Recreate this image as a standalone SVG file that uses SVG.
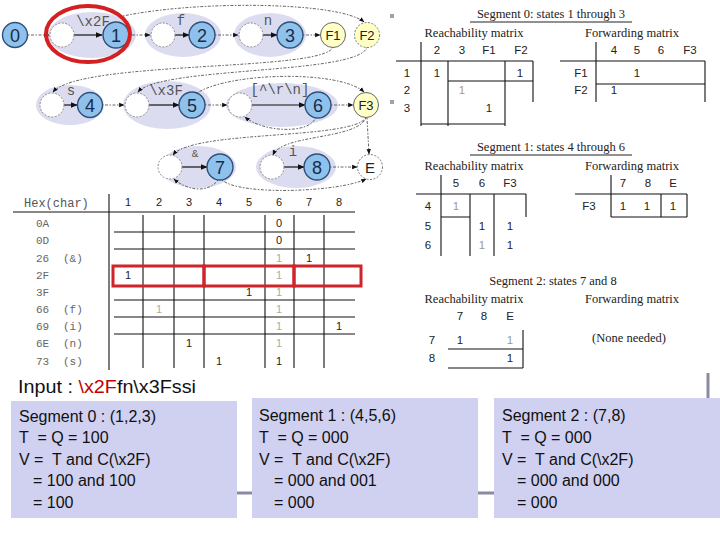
<svg xmlns="http://www.w3.org/2000/svg" width="720" height="540" viewBox="0 0 720 540">
<style>
.bg{fill:#fff}
.lav{fill:#dcdcf1}
.bn{fill:#8ec2ec;stroke:#2e4f78;stroke-width:1.4}
.wn{fill:#fff;stroke:#8a8a8a;stroke-width:1;stroke-dasharray:2 1.5}
.yn{fill:#ffffc6;stroke:#666;stroke-width:1}
.yd{fill:#ffffc6;stroke:#777;stroke-width:1;stroke-dasharray:2 1.5}
.en{fill:#fff;stroke:#777;stroke-width:1;stroke-dasharray:2 1.5}
.nt{font-family:"Liberation Sans",Arial,sans-serif;font-size:18px;fill:#1b2b4b;text-anchor:middle;dominant-baseline:central}
.yt{font-family:"Liberation Sans",Arial,sans-serif;font-size:13px;fill:#222;text-anchor:middle;dominant-baseline:central}
.lb{font-family:"Liberation Mono","Courier New",monospace;font-size:14px;fill:#555;text-anchor:middle}
.sol{fill:none;stroke:#111;stroke-width:1.2}
.dot{fill:none;stroke:#555;stroke-width:0.9;stroke-dasharray:1.5 1.5 3 1.5}
.tl{stroke:#111;stroke-width:1.1;fill:none}
.hx{font-family:"Liberation Mono","Courier New",monospace;font-size:11px;fill:#666}
.hh{font-family:"Liberation Mono","Courier New",monospace;font-size:12px;fill:#555}
.cn{font-family:"Liberation Sans",Arial,sans-serif;font-size:11px;fill:#222;text-anchor:middle}
.cf{font-family:"Liberation Sans",Arial,sans-serif;font-size:11px;fill:#aaa;text-anchor:middle}
.red{fill:none;stroke:#d0232a;stroke-width:3}
.st{font-family:"Liberation Serif","Times New Roman",serif;font-size:12.5px;fill:#222;text-anchor:middle}
.mn{font-family:"Liberation Sans",Arial,sans-serif;font-size:11.5px;fill:#222;text-anchor:middle}
.mf{font-family:"Liberation Sans",Arial,sans-serif;font-size:11.5px;fill:#999;text-anchor:middle}
.box{fill:#d0d0f0}
.bt{font-family:"Liberation Sans",Arial,sans-serif;font-size:16px;fill:#111;white-space:pre}
.gl{stroke:#8a8aa0;stroke-width:3}
.sq{fill:#a0a0b0}
</style>
<defs>
<marker id="ah" viewBox="0 0 10 10" refX="9" refY="5" markerWidth="6" markerHeight="6" orient="auto"><path d="M0,1 L10,5 L0,9 z" fill="#111"/></marker>
</defs>
<rect class="bg" width="720" height="540"/>

<g id="groups">
<ellipse class="lav" cx="92" cy="35" rx="44" ry="23"/>
<ellipse class="lav" cx="183" cy="35" rx="38" ry="22"/>
<ellipse class="lav" cx="270" cy="35" rx="36" ry="22"/>
<ellipse class="lav" cx="70" cy="105" rx="34" ry="20"/>
<ellipse class="lav" cx="167" cy="105" rx="44" ry="24"/>
<ellipse class="lav" cx="282" cy="105" rx="56" ry="22"/>
<ellipse class="lav" cx="198" cy="167" rx="38" ry="21"/>
<ellipse class="lav" cx="296" cy="167" rx="40" ry="21"/>
</g>

<g id="connectors">
<line class="dot" x1="28" y1="35" x2="49" y2="35" marker-end="url(#ah)"/>
<line class="sol" x1="74" y1="35" x2="102" y2="35" marker-end="url(#ah)"/>
<line class="dot" x1="129" y1="35" x2="150" y2="35" marker-end="url(#ah)"/>
<line class="sol" x1="175" y1="35" x2="189" y2="35" marker-end="url(#ah)"/>
<line class="dot" x1="215" y1="35" x2="238" y2="35" marker-end="url(#ah)"/>
<line class="sol" x1="263" y1="35" x2="277" y2="35" marker-end="url(#ah)"/>
<line class="dot" x1="303" y1="35" x2="320" y2="35" marker-end="url(#ah)"/>
<path class="dot" d="M123,16 C200,0 340,2 364,22" marker-end="url(#ah)"/>
<path class="dot" d="M333,47 C325,72 80,60 53,92" marker-end="url(#ah)"/>
<path class="dot" d="M367,47 C360,75 160,66 138,92" marker-end="url(#ah)"/>
<line class="sol" x1="64" y1="105" x2="77" y2="105" marker-end="url(#ah)"/>
<line class="dot" x1="102" y1="105" x2="124" y2="105" marker-end="url(#ah)"/>
<line class="sol" x1="149" y1="105" x2="179" y2="105" marker-end="url(#ah)"/>
<line class="dot" x1="205" y1="105" x2="227" y2="105" marker-end="url(#ah)"/>
<line class="sol" x1="252" y1="105" x2="305" y2="105" marker-end="url(#ah)"/>
<line class="dot" x1="331" y1="105" x2="353" y2="105" marker-end="url(#ah)"/>
<path class="dot" d="M197,93 C230,72 340,70 364,92" marker-end="url(#ah)"/>
<path class="dot" d="M316,117 C310,135 262,132 245,117" marker-end="url(#ah)"/>
<path class="dot" d="M366,118 C350,140 192,130 173,155" marker-end="url(#ah)"/>
<path class="dot" d="M366,118 C356,140 282,134 273,155" marker-end="url(#ah)"/>
<line class="dot" x1="367" y1="118" x2="369" y2="154" marker-end="url(#ah)"/>
<line class="sol" x1="182" y1="167" x2="207" y2="167" marker-end="url(#ah)"/>
<line class="sol" x1="284" y1="167" x2="304" y2="167" marker-end="url(#ah)"/>
<line class="dot" x1="330" y1="167" x2="357" y2="167" marker-end="url(#ah)"/>
<path class="dot" d="M222,180 C240,196 340,192 366,179" marker-end="url(#ah)"/>
<path class="dot" d="M218,180 C208,194 186,190 174,179" marker-end="url(#ah)"/>
</g>

<g id="labels">
<text class="lb" x="93" y="26">\x2F</text>
<text class="lb" x="181" y="25">f</text>
<text class="lb" x="268" y="25">n</text>
<text class="lb" x="71" y="95">s</text>
<text class="lb" x="166" y="95">\x3F</text>
<text class="lb" x="280" y="94">[^\r\n]</text>
<text class="lb" x="195" y="157" style="font-size:11px">&amp;</text>
<text class="lb" x="293" y="156">i</text>
</g>

<g id="n0"><circle class="bn" cx="15" cy="35" r="12.5"/><text class="nt" x="15" y="36">0</text></g>
<g id="w1"><circle class="wn" cx="62" cy="35" r="12"/></g>
<g id="n1"><circle class="bn" cx="116" cy="35" r="13"/><text class="nt" x="116" y="36">1</text></g>
<g id="w2"><circle class="wn" cx="163" cy="35" r="12"/></g>
<g id="n2"><circle class="bn" cx="202" cy="35" r="13"/><text class="nt" x="202" y="36">2</text></g>
<g id="w3"><circle class="wn" cx="251" cy="35" r="12"/></g>
<g id="n3"><circle class="bn" cx="290" cy="35" r="13"/><text class="nt" x="290" y="36">3</text></g>
<g id="f1"><circle class="yn" cx="333" cy="35" r="12.5"/><text class="yt" x="333" y="35">F1</text></g>
<g id="f2"><circle class="yd" cx="367" cy="35" r="12.5"/><text class="yt" x="367" y="35">F2</text></g>
<g id="w4"><circle class="wn" cx="52" cy="105" r="12"/></g>
<g id="n4"><circle class="bn" cx="90" cy="105" r="12.5"/><text class="nt" x="90" y="106">4</text></g>
<g id="w5"><circle class="wn" cx="137" cy="105" r="12"/></g>
<g id="n5"><circle class="bn" cx="192" cy="105" r="13"/><text class="nt" x="192" y="106">5</text></g>
<g id="w6"><circle class="wn" cx="240" cy="105" r="12"/></g>
<g id="n6"><circle class="bn" cx="318" cy="105" r="13"/><text class="nt" x="318" y="106">6</text></g>
<g id="f3"><circle class="yn" cx="366" cy="105" r="12.5"/><text class="yt" x="366" y="105">F3</text></g>
<g id="w7"><circle class="wn" cx="170" cy="167" r="12"/></g>
<g id="n7"><circle class="bn" cx="220" cy="167" r="13"/><text class="nt" x="220" y="168">7</text></g>
<g id="w8"><circle class="wn" cx="272" cy="167" r="12"/></g>
<g id="n8"><circle class="bn" cx="317" cy="167" r="13"/><text class="nt" x="317" y="168">8</text></g>
<g id="e"><circle class="en" cx="370" cy="167" r="12.5"/><text class="yt" x="370" y="167" style="font-size:15px">E</text></g>

<g id="highlight">
<ellipse cx="88" cy="34" rx="42" ry="28" fill="none" stroke="#d42020" stroke-width="4"/>
</g>

<g id="hex-table">
<text class="hh" x="24" y="207">Hex(char)</text>
<g class="cn">
<text x="128" y="206">1</text><text x="159" y="206">2</text><text x="189" y="206">3</text><text x="219" y="206">4</text>
<text x="249" y="206">5</text><text x="279" y="206">6</text><text x="309" y="206">7</text><text x="339" y="206">8</text>
</g>
<line class="tl" x1="109" y1="194" x2="109" y2="370"/>
<line class="tl" x1="13" y1="212" x2="355" y2="212"/>
<path class="tl" d="M143,215V368M174,215V368M204,215V368M265,215V368M294,215V368M324,215V368"/>
<path class="tl" d="M114,232H355M114,249H355M114,300H355M114,317H355M114,334H355"/>
<g class="hx">
<text x="36" y="227">0A</text>
<text x="36" y="244">0D</text>
<text x="36" y="262">26</text><text x="63" y="262">(&amp;)</text>
<text x="36" y="279">2F</text>
<text x="36" y="296">3F</text>
<text x="36" y="313">66</text><text x="63" y="313">(f)</text>
<text x="36" y="330">69</text><text x="63" y="330">(i)</text>
<text x="36" y="347">6E</text><text x="63" y="347">(n)</text>
<text x="36" y="365">73</text><text x="63" y="365">(s)</text>
</g>
<g class="cn">
<text x="279" y="227">0</text>
<text x="279" y="244">0</text>
<text x="309" y="262">1</text>
<text x="128" y="279">1</text>
<text x="249" y="296">1</text>
<text x="339" y="330">1</text>
<text x="189" y="347">1</text>
<text x="219" y="365">1</text>
<text x="279" y="365">1</text>
</g>
<g class="cf">
<text x="279" y="262">1</text>
<text x="279" y="279">1</text>
<text x="279" y="296">1</text>
<text x="159" y="313">1</text><text x="279" y="313">1</text>
<text x="279" y="330">1</text>
<text x="279" y="347">1</text>
</g>
<rect class="red" x="113" y="266" width="91" height="20"/>
<rect class="red" x="204" y="266" width="90" height="20"/>
<rect class="red" x="294" y="266" width="67" height="20"/>
</g>

<rect class="sq" x="390" y="14" width="4" height="4"/>
<rect class="sq" x="390" y="100" width="4" height="4"/>

<g id="seg0-matrices">
<text class="st" x="551" y="18">Segment 0: states 1 through 3</text>
<line x1="470" y1="22" x2="632" y2="22" stroke="#222" stroke-width="1"/>
<text class="st" x="474" y="37">Reachability matrix</text>
<text class="st" x="632" y="37">Forwarding matrix</text>
<g class="mn">
<text x="437" y="54">2</text><text x="462" y="54">3</text><text x="489" y="54">F1</text><text x="521" y="54">F2</text>
<text x="407" y="77">1</text><text x="407" y="94">2</text><text x="407" y="112">3</text>
<text x="437" y="77">1</text><text x="520" y="77">1</text>
<text x="489" y="112">1</text>
<text x="614" y="54">4</text><text x="637" y="54">5</text><text x="661" y="54">6</text><text x="690" y="54">F3</text>
<text x="581" y="77">F1</text><text x="581" y="94">F2</text>
<text x="637" y="77">1</text><text x="614" y="94">1</text>
</g>
<text class="mn" x="462" y="94" style="fill:#b89a50">1</text>
<path class="tl" d="M421,42V126M396,61H533M448,61V126M505,61V126M533,61V102M448,81H533M421,124H505"/>
<path class="tl" d="M596,42V102M560,61H705M596,84H705M705,61V102"/>
</g>

<g id="seg1-matrices">
<text class="st" x="551" y="151">Segment 1: states 4 through 6</text>
<line x1="470" y1="155" x2="632" y2="155" stroke="#222" stroke-width="1"/>
<text class="st" x="474" y="170">Reachability matrix</text>
<text class="st" x="632" y="170">Forwarding matrix</text>
<g class="mn">
<text x="456" y="187">5</text><text x="482" y="187">6</text><text x="510" y="187">F3</text>
<text x="428" y="210">4</text><text x="428" y="230">5</text><text x="428" y="249">6</text>
<text x="482" y="230">1</text><text x="510" y="230">1</text><text x="510" y="249">1</text>
<text x="623" y="187">7</text><text x="648" y="187">8</text><text x="673" y="187">E</text>
<text x="589" y="210">F3</text>
<text x="623" y="210">1</text><text x="647" y="210">1</text><text x="673" y="210">1</text>
</g>
<g class="mf"><text x="456" y="210">1</text><text x="482" y="249">1</text></g>
<path class="tl" d="M441,175V256M416,194H526M470,194V256M494,194V256M526,194V217M441,217H470"/>
<path class="tl" d="M611,175V217M575,194H687M661,194V217M687,194V217M611,217H687"/>
</g>

<g id="seg2-matrices">
<text class="st" x="553" y="285">Segment 2: states 7 and 8</text>
<text class="st" x="474" y="303">Reachability matrix</text>
<text class="st" x="632" y="303">Forwarding matrix</text>
<g class="mn">
<text x="460" y="320">7</text><text x="484" y="320">8</text><text x="510" y="320">E</text>
<text x="432" y="344">7</text><text x="432" y="362">8</text>
<text x="460" y="344">1</text><text x="510" y="362">1</text>
</g>
<text class="mf" x="510" y="344">1</text>
<text class="st" x="629" y="342">(None needed)</text>
<path class="tl" d="M448,349H523M448,368H523M523,330V368"/>
</g>

<g id="bottom">
<line class="gl" x1="230" y1="493" x2="260" y2="493"/>
<line class="gl" x1="470" y1="493" x2="500" y2="493"/>
<line class="gl" x1="708" y1="373" x2="708" y2="400"/>
<g id="box0"><rect class="box" x="11" y="401" width="226" height="117"/>
<text class="bt" x="19" y="422">Segment 0 : (1,2,3)</text>
<text class="bt" x="19" y="443">T  = Q = 100</text>
<text class="bt" x="19" y="465">V =  T and C(\x2F)</text>
<text class="bt" x="33" y="486">= 100 and 100</text>
<text class="bt" x="33" y="508">= 100</text></g>
<g id="box1"><rect class="box" x="252" y="398" width="226" height="120"/>
<text class="bt" x="259" y="421">Segment 1 : (4,5,6)</text>
<text class="bt" x="259" y="443">T  = Q = 000</text>
<text class="bt" x="259" y="465">V =  T and C(\x2F)</text>
<text class="bt" x="274" y="486">= 000 and 001</text>
<text class="bt" x="274" y="508">= 000</text></g>
<g id="box2"><rect class="box" x="494" y="398" width="226" height="120"/>
<text class="bt" x="502" y="421">Segment 2 : (7,8)</text>
<text class="bt" x="502" y="443">T  = Q = 000</text>
<text class="bt" x="502" y="465">V =  T and C(\x2F)</text>
<text class="bt" x="517" y="486">= 000 and 000</text>
<text class="bt" x="517" y="508">= 000</text></g>
<text class="bt" x="18" y="393" style="font-size:18px" textLength="178" lengthAdjust="spacingAndGlyphs">Input : <tspan fill="#c00000">\x2F</tspan>fn\x3Fssi</text>
</g>
</svg>
